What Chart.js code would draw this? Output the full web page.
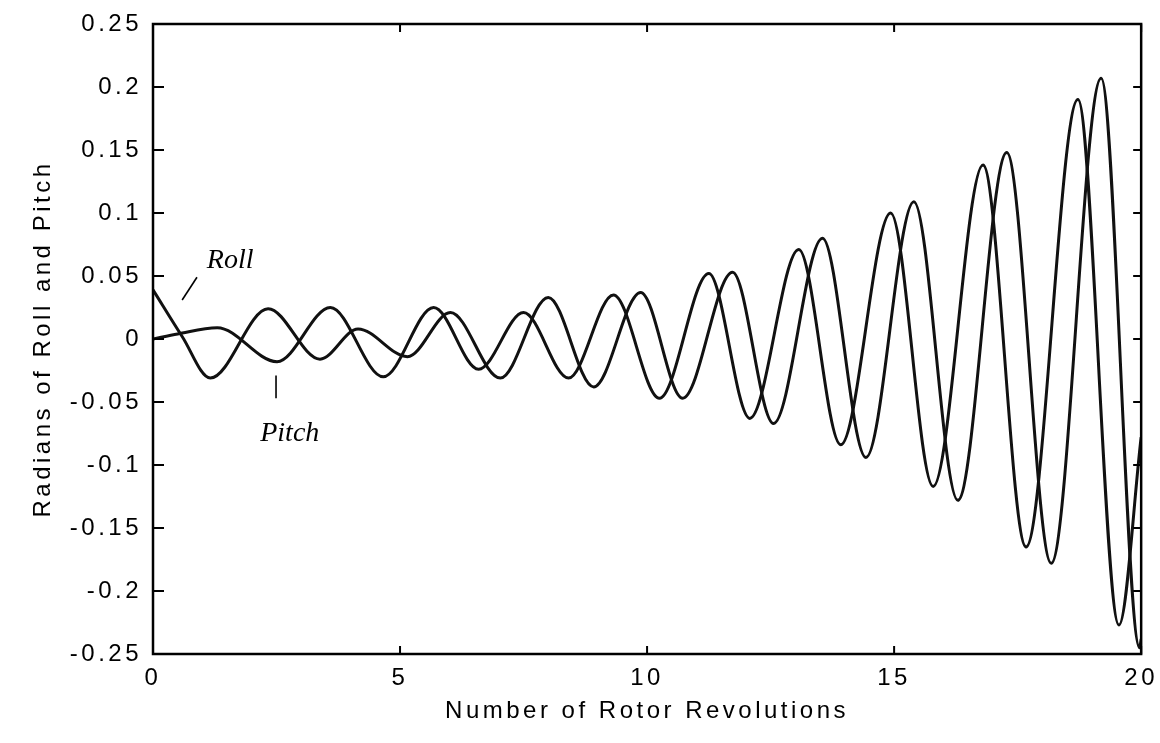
<!DOCTYPE html>
<html>
<head>
<meta charset="utf-8">
<script src="https://cdn.jsdelivr.net/npm/chart.js@4.4.1/dist/chart.umd.min.js"></script>
<style>
  html,body{margin:0;background:#fff}
  canvas{display:block}
</style>
</head>
<body>
<canvas id="chart" width="1160" height="743"></canvas>
<script>
// tick values / labels
const X_TICKS = [0, 5, 10, 15, 20];
const Y_TICKS = [-0.25, -0.2, -0.15, -0.1, -0.05, 0, 0.05, 0.1, 0.15, 0.2, 0.25];
const Y_LABELS = ["-0.25","-0.2","-0.15","-0.1","-0.05","0","0.05","0.1","0.15","0.2","0.25"];

// roll (extrema + a crossing)
const ROLL_X = [0, 0.59, 1.16, 2.33, 3.38, 4.15, 5.15, 6.02, 7.03, 8.0, 8.92, 9.87, 10.72, 11.73, 12.56, 13.55, 14.43, 15.4, 16.29, 17.28, 18.18, 19.19, 19.97, 20];
const ROLL_Y = [0.039, 0.002, -0.031, 0.024, -0.016, 0.008, -0.014, 0.021, -0.031, 0.033, -0.038, 0.037, -0.047, 0.053, -0.067, 0.080, -0.094, 0.109, -0.128, 0.148, -0.178, 0.207, -0.245, -0.238];

// pitch
const PITCH_X = [0, 0.5, 1.3, 2.51, 3.59, 4.66, 5.68, 6.59, 7.5, 8.41, 9.32, 10.25, 11.25, 12.08, 13.07, 13.92, 14.93, 15.79, 16.8, 17.67, 18.72, 19.55, 20];
const PITCH_Y = [0, 0.004, 0.009, -0.018, 0.025, -0.030, 0.025, -0.024, 0.021, -0.031, 0.035, -0.047, 0.052, -0.063, 0.071, -0.084, 0.100, -0.117, 0.138, -0.165, 0.190, -0.227, -0.078];

const X_TITLE = "Number of Rotor Revolutions";
const Y_TITLE = "Radians of Roll and Pitch";

// handwritten notes on the scan
const NOTES = [
  {text:"Roll",  x:1.09, y:0.062, lx:[0.89, 0.59], ly:[0.049, 0.031]},
  {text:"Pitch", x:2.17, y:-0.075, lx:[2.49, 2.49], ly:[-0.029, -0.047]}
];

const INK = "#000";
const pts = (xs, ys) => xs.map((x,i)=>({x, y:ys[i]}));

Chart.defaults.font.family = "'Liberation Sans', Arial, sans-serif";
Chart.defaults.color = INK;

const spacing = {
  id:"spacing",
  beforeUpdate(c){ c.ctx.letterSpacing = "3.5px"; },
  beforeDraw(c){ c.ctx.letterSpacing = "3.5px"; }
};

const frame = {
  id:"frame",
  afterDraw(c){
    const {ctx, chartArea:a, scales:{x, y}} = c;
    ctx.save();
    ctx.strokeStyle = INK;
    ctx.lineWidth = 2.5;
    ctx.strokeRect(a.left, a.top, a.right - a.left, a.bottom - a.top);
    ctx.lineWidth = 2;
    ctx.beginPath();
    Y_TICKS.forEach(v=>{
      const py = y.getPixelForValue(v);
      ctx.moveTo(a.left, py);  ctx.lineTo(a.left + 11, py);
      ctx.moveTo(a.right, py); ctx.lineTo(a.right - 8, py);
    });
    X_TICKS.forEach(v=>{
      const px = x.getPixelForValue(v);
      ctx.moveTo(px, a.bottom); ctx.lineTo(px, a.bottom - 8);
      ctx.moveTo(px, a.top);    ctx.lineTo(px, a.top + 8);
    });
    ctx.stroke();

    // notes
    ctx.letterSpacing = "0px";
    ctx.font = "italic 28px 'Liberation Serif', serif";
    ctx.textBaseline = "middle";
    ctx.fillStyle = INK;
    ctx.lineWidth = 1.6;
    NOTES.forEach(n=>{
      ctx.fillText(n.text, x.getPixelForValue(n.x), y.getPixelForValue(n.y));
      ctx.beginPath();
      ctx.moveTo(x.getPixelForValue(n.lx[0]), y.getPixelForValue(n.ly[0]));
      ctx.lineTo(x.getPixelForValue(n.lx[1]), y.getPixelForValue(n.ly[1]));
      ctx.stroke();
    });
    ctx.restore();
  }
};

const lineStyle = {
  borderColor: "#111",
  borderWidth: 3,
  pointRadius: 0,
  cubicInterpolationMode: "monotone",
  fill: false
};

new Chart(document.getElementById("chart"), {
  type: "line",
  data: {
    datasets: [
      {label:"Roll",  data: pts(ROLL_X, ROLL_Y),  ...lineStyle},
      {label:"Pitch", data: pts(PITCH_X, PITCH_Y), ...lineStyle}
    ]
  },
  options: {
    responsive: false,
    animation: false,
    layout: {padding: {top: 24, right: 13, left: 0, bottom: 0}},
    plugins: {legend: {display: false}, tooltip: {enabled: false}},
    scales: {
      x: {
        type: "linear", min: 0, max: 20,
        afterBuildTicks: s => { s.ticks = X_TICKS.map(v=>({value:v})); },
        afterFit: s => { s.height = 89; },
        grid: {display: false}, border: {display: false},
        ticks: {padding: 2, font: {size: 24}, color: INK, maxRotation: 0},
        title: {display: true, text: X_TITLE, font: {size: 24}, color: INK, padding: {top: 0, bottom: 17}}
      },
      y: {
        type: "linear", min: -0.25, max: 0.25,
        afterBuildTicks: s => { s.ticks = Y_TICKS.map(v=>({value:v})); },
        afterFit: s => { s.width = 153; },
        grid: {display: false}, border: {display: false},
        ticks: {padding: 3, font: {size: 24}, color: INK,
          callback: v => { const i = Y_TICKS.findIndex(t => Math.abs(t - v) < 1e-9); return i < 0 ? "" : Y_LABELS[i]; }},
        title: {display: true, text: Y_TITLE, font: {size: 24}, color: INK, padding: {top: 29, bottom: 0}}
      }
    }
  },
  plugins: [spacing, frame]
});
</script>
</body>
</html>
